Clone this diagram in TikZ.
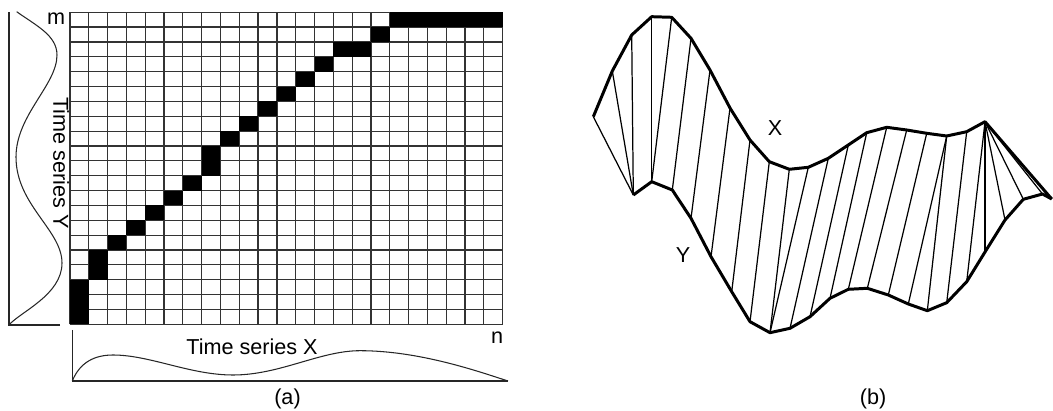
\documentclass[tikz,border=0pt]{standalone}
\usepackage{fontspec}
\setmainfont{Liberation Sans}
\usepackage{tikz}
\usetikzlibrary{positioning}

\begin{document}
\begin{tikzpicture}[x=0.02cm, y=-0.02cm,
    gridline/.style={draw=black!80, line width=0.7pt},
    series/.style={draw=black!85, line width=0.6pt},
    warp/.style={line width=1.7pt, line join=round},
    link/.style={line width=0.7pt},
    lbl/.style={font=\fontsize{12.3}{14}\selectfont, inner sep=0pt}
]
\useasboundingbox (0,0) rectangle (1053,411);

% (a) cost matrix
\begin{scope}[shift={(70,324.3)}, xscale=18.81, yscale=-14.86]
\foreach \c in {0,...,23}
    \draw[gridline] (\c,0) -- (\c,21);
\foreach \r in {0,...,21}
    \draw[gridline] (0,\r) -- (23,\r);
\foreach \c/\r in {0/0,0/1,0/2,1/3,1/4,2/5,3/6,4/7,5/8,6/9,7/10,7/11,8/12,9/13,10/14,11/15,12/16,13/17,14/18,15/18,16/19,17/20,18/20,19/20,20/20,21/20,22/20}
    \fill (\c,\r) rectangle ++(1,1);
\end{scope}

\draw[series] (60,325) -- (9,325) -- (9,11.7);
\draw[series] (16.7,11.7) .. controls (35,25) and (57,35) .. (57,55)
    .. controls (57,85) and (16,115) .. (16,157)
    .. controls (16,205) and (62,230) .. (62,263)
    .. controls (62,295) and (20,312) .. (9,325);
\draw[series] (72.3,330) -- (72.3,381) -- (508,381);
\draw[series] (72.3,381) .. controls (80,362) and (95,355) .. (113,355)
    .. controls (150,355) and (190,375) .. (233,375)
    .. controls (280,375) and (320,350.7) .. (360,350.7)
    .. controls (420,350.7) and (480,372) .. (508,381);

\node[lbl] (m) at (56,19) {m};
\node[lbl] (n) at (497,337.5) {n};
\node[lbl, rotate=-90] (tsy) at (61,163) {Time series Y};
\node[lbl, anchor=base] (tsx) at (252,355) {Time series X};
\node[lbl, anchor=base] (capa) at (287.5,404) {(a)};

% (b) warping
\foreach \px/\py [count=\i from 0] in {593.3/116.7,612.3/71,631.7/35,651.7/16.7,671.7/17.3,691/38.3,710/70,730/108,750/140,769.3/161.7,789.3/169.3,808.3/167.3,828.3/158.3,848.3/145,866.7/132.7,886.7/127.3,906.7/130,926.7/133.3,946.7/136,966.7/131.7,985/121.7,1051.7/199}
    \coordinate (x\i) at (\px,\py);
\foreach \px/\py [count=\i from 0] in {633.3/195,651.7/181.7,672.3/190,691/218.3,711/256.7,731.7/291.7,750/321.7,770/332.7,790/328.3,810/316.7,830/298.3,848.3/289.3,867.3/288.3,888.3/295,908.3/304,927.3/310.7,946.7/302.7,966.7/281.7,985/252,1005/220,1023.3/199.3,1042.5/194,1051.7/199}
    \coordinate (y\i) at (\px,\py);

\foreach \a/\b in {0/0,1/0,2/0,3/1,4/1,5/2,6/3,7/4,8/5,9/6,10/7,11/7,12/8,13/9,14/10,15/11,16/12,17/13,18/14,18/15,19/16,20/17,20/18,20/19,20/20,20/21,20/22}
    \draw[link] (x\a) -- (y\b);
\draw[warp] (x0) \foreach \i in {1,...,21} {-- (x\i)};
\draw[warp] (y0) \foreach \i in {1,...,22} {-- (y\i)};

\node[lbl] (lx) at (775,128) {X};
\node[lbl] (ly) at (683,255) {Y};
\node[lbl, anchor=base] (capb) at (873,404) {(b)};
\end{tikzpicture}
\end{document}
